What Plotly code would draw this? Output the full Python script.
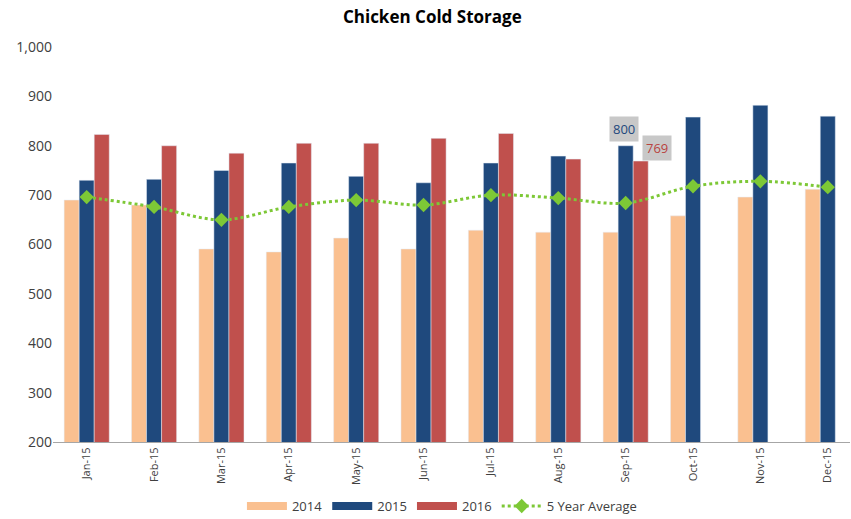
import plotly.graph_objects as go

months = ["Jan-15", "Feb-15", "Mar-15", "Apr-15", "May-15", "Jun-15",
          "Jul-15", "Aug-15", "Sep-15", "Oct-15", "Nov-15", "Dec-15"]
y2014 = [690, 680, 591, 585, 613, 591, 629, 625, 625, 658, 696, 712]
y2015 = [730, 732, 750, 765, 738, 725, 765, 779, 800, 858, 882, 860]
y2016 = [823, 800, 785, 805, 805, 815, 825, 773, 769, None, None, None]
avg5 = [696, 676, 650, 676, 690, 680, 700, 694, 684, 718, 728, 716]

font_family = "Open Sans, Liberation Sans, Arial, sans-serif"
c14, c15, c16, cavg = "#FAC090", "#1F497D", "#C0504D", "#7DC836"

fig = go.Figure()
for name, vals, col in [("2014", y2014, c14), ("2015", y2015, c15), ("2016", y2016, c16)]:
    fig.add_trace(go.Bar(x=months, y=vals, name=name, marker_color=col,
                         legendgroup=name, showlegend=False))
    # legend swatch drawn as a thick short line (like Excel's wide rectangle)
    fig.add_trace(go.Scatter(x=[None], y=[None], mode="lines", name=name,
                             legendgroup=name, line=dict(color=col, width=8)))
fig.add_trace(go.Scatter(x=months, y=avg5, name="5 Year Average", mode="lines+markers",
                         line=dict(color=cavg, width=3, dash="dot", shape="spline"),
                         marker=dict(symbol="diamond", size=11, color=cavg)))

fig.add_annotation(x="Sep-15", y=y2015[8], text="800", showarrow=False,
                   xshift=-2, yshift=4, yanchor="bottom", bgcolor="#C8C8C8", borderpad=3,
                   font=dict(color="#1F497D", size=13, family=font_family))
fig.add_annotation(x="Sep-15", y=y2016[8], text="769", showarrow=False,
                   xshift=31, yshift=0, yanchor="bottom", bgcolor="#C8C8C8", borderpad=3,
                   font=dict(color="#B8433F", size=13, family=font_family))

fig.update_layout(
    width=851, height=519,
    paper_bgcolor="white", plot_bgcolor="white",
    margin=dict(l=53, r=1, t=47, b=77),
    title=dict(text="<b>Chicken Cold Storage</b>", x=0.508, xanchor="center",
               y=0.967, yanchor="middle",
               font=dict(size=17, color="#000000", family=font_family)),
    barmode="group", bargap=0.33, bargroupgap=0,
    font=dict(family=font_family, color="#404040"),
    legend=dict(orientation="h", x=0.488, xanchor="center", yref="container",
                y=0.025, yanchor="middle", font=dict(size=13, color="#404040"),
                traceorder="normal", itemwidth=40),
    showlegend=True,
)
fig.update_xaxes(tickangle=-90, tickfont=dict(size=11, color="#404040"), showline=True,
                 linecolor="#A6A6A6", linewidth=1, showgrid=False, ticks="",
                 range=[-0.5, 11.33])
fig.update_yaxes(range=[200, 1000], dtick=100, tickformat=",", showgrid=False,
                 showline=False, tickfont=dict(size=14, color="#404040"), zeroline=False)

fig.write_html("out.html")
